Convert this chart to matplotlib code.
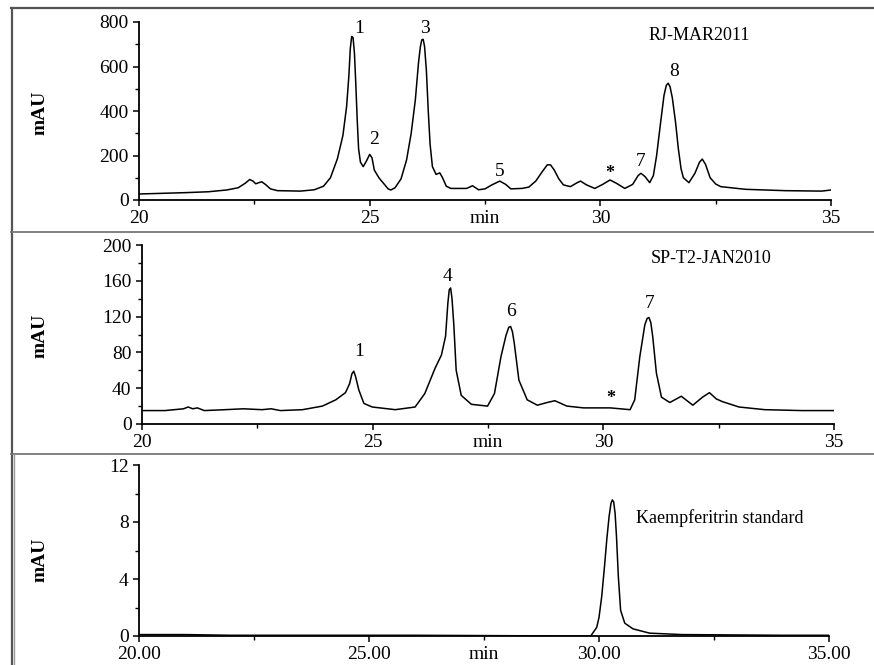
import matplotlib
matplotlib.use("Agg")
import matplotlib.pyplot as plt
from matplotlib.lines import Line2D
from matplotlib.ticker import MultipleLocator, FormatStrFormatter

plt.rcParams['font.family'] = ['Liberation Serif', 'DejaVu Serif']

# --- RJ-MAR2011 chromatogram (min, mAU)
rj_t = [20.0, 20.5, 21.0, 21.5, 21.9, 22.15, 22.3, 22.4, 22.47, 22.53, 22.6, 22.66, 22.74, 22.85,
        23.0, 23.5, 23.8, 24.0, 24.15, 24.3, 24.42, 24.5, 24.55, 24.58, 24.61, 24.64, 24.67, 24.7,
        24.73, 24.76, 24.8, 24.86, 24.93, 25.0, 25.05, 25.1, 25.2, 25.3, 25.4, 25.46, 25.55, 25.68,
        25.8, 25.9, 25.99, 26.06, 26.1, 26.13, 26.16, 26.19, 26.23, 26.27, 26.31, 26.36, 26.44,
        26.52, 26.58, 26.66, 26.76, 27.1, 27.23, 27.36, 27.5, 27.65, 27.82, 27.95, 28.06, 28.3,
        28.45, 28.6, 28.75, 28.85, 28.92, 29.0, 29.1, 29.2, 29.35, 29.5, 29.57, 29.7, 29.88, 30.05,
        30.21, 30.35, 30.53, 30.7, 30.82, 30.88, 30.97, 31.07, 31.15, 31.22, 31.3, 31.38, 31.43,
        31.47, 31.51, 31.56, 31.63, 31.69, 31.75, 31.8, 31.92, 32.05, 32.15, 32.21, 32.28, 32.38,
        32.5, 32.61, 33.15, 34.0, 34.8, 35.0]
rj_v = [27, 30, 33, 37, 45, 55, 75, 92, 85, 73, 78, 82, 70, 50,
        42, 40, 46, 62, 100, 185, 290, 420, 560, 680, 735, 730, 660, 520,
        360, 230, 170, 150, 175, 205, 190, 135, 100, 75, 50, 45, 55, 95,
        180, 300, 450, 620, 690, 720, 722, 690, 580, 400, 250, 150, 115,
        122, 100, 62, 52, 52, 64, 46, 50, 68, 85, 70, 50, 52,
        58, 85, 130, 158, 158, 135, 95, 68, 60, 78, 85, 68, 52, 70,
        90, 75, 52, 70, 110, 120, 105, 78, 110, 200, 337, 470, 515,
        525, 510, 460, 350, 232, 140, 100, 78, 120, 170, 184, 160, 100,
        72, 60, 48, 42, 40, 45]
rj_lab = ['1', '2', '3', '5', '*', '7', '8']
rj_lab_t = [24.77, 25.1, 26.2, 27.82, 30.21, 30.88, 31.6]
rj_lab_v = [772, 274, 772, 127, 118, 172, 577]

# --- SP-T2-JAN2010 chromatogram
sp_t = [20.0, 20.5, 20.9, 21.0, 21.1, 21.2, 21.35, 21.8, 22.2, 22.6, 22.8, 23.0, 23.48, 23.91,
        24.2, 24.41, 24.5, 24.55, 24.59, 24.63, 24.7, 24.81, 24.99, 25.49, 25.92, 26.13, 26.35,
        26.49, 26.58, 26.63, 26.66, 26.69, 26.72, 26.76, 26.81, 26.92, 27.14, 27.49, 27.64, 27.78,
        27.89, 27.95, 27.99, 28.03, 28.07, 28.17, 28.35, 28.57, 28.78, 28.95, 29.21, 29.57, 30.15,
        30.58, 30.68, 30.79, 30.9, 30.95, 30.99, 31.03, 31.07, 31.15, 31.26, 31.44, 31.69, 31.94,
        32.15, 32.3, 32.45, 32.58, 32.94, 33.5, 34.3, 35.0]
sp_v = [15, 15, 17, 19, 17, 18, 15, 16, 17, 16, 17, 15, 16, 20,
        27, 35, 45, 56, 59, 53, 38, 23, 19, 16, 19, 34, 62,
        77, 98, 135, 150, 152, 140, 110, 60, 32, 22, 20, 34, 75,
        99, 108, 109, 103, 90, 49, 27, 21, 24, 26, 20, 18, 18,
        16, 27, 75, 111, 118, 119, 113, 98, 57, 30, 24, 31, 21,
        30, 35, 28, 25, 19, 16, 15, 15]
sp_lab = ['1', '4', '6', '*', '7']
sp_lab_t = [24.7, 26.62, 28.0, 30.17, 31.0]
sp_lab_v = [81, 165, 126, 28, 135]

# --- Kaempferitrin standard
std_t = [20.0, 21.0, 22.0, 24.0, 26.0, 29.5, 29.82, 29.95, 30.0, 30.06, 30.12, 30.17, 30.22,
         30.26, 30.29, 30.32, 30.35, 30.38, 30.42, 30.47, 30.56, 30.74, 31.1, 31.8, 34.0, 35.0]
std_v = [0.1, 0.1, 0.05, 0.05, 0.05, 0.0, 0.0, 0.6, 1.3, 2.8, 4.9, 6.8, 8.4,
         9.3, 9.55, 9.4, 8.6, 7.0, 4.2, 1.8, 0.9, 0.5, 0.2, 0.1, 0.05, 0.05]

W, H = 874, 665
fig = plt.figure(figsize=(W / 100, H / 100), dpi=100)


def px_axes(x0, x1, ytop, ybot):
    return fig.add_axes([x0 / W, 1 - ybot / H, (x1 - x0) / W, (ybot - ytop) / H])


def style(ax, ymax, ymaj, xfmt):
    ax.set_xlim(20, 35)
    ax.set_ylim(0, ymax)
    for s in ['top', 'right']:
        ax.spines[s].set_visible(False)
    for s in ['left', 'bottom']:
        ax.spines[s].set_linewidth(1.3)
    ax.xaxis.set_major_locator(MultipleLocator(5))
    ax.xaxis.set_minor_locator(MultipleLocator(2.5))
    ax.yaxis.set_major_locator(MultipleLocator(ymaj))
    ax.yaxis.set_minor_locator(MultipleLocator(ymaj / 2))
    ax.xaxis.set_major_formatter(FormatStrFormatter(xfmt))
    ax.tick_params(which='major', length=4.5, width=1.1, labelsize=14, pad=3)
    ax.tick_params(which='minor', length=3, width=1.0)
    ax.annotate('min', xy=(0.5, 0), xycoords='axes fraction', xytext=(0, -7.5),
                textcoords='offset points', ha='center', va='top', fontsize=14)
    ax.patch.set_alpha(0)


ax1 = px_axes(139, 831, 22, 200)
ax1.plot(rj_t, rj_v, color='black', lw=1.1)
style(ax1, 800, 200, '%d')
for s, t, v in zip(rj_lab, rj_lab_t, rj_lab_v):
    ax1.text(t, v, s, ha='center', va='center', fontsize=14 if s != '*' else 13,
             fontweight='bold' if s == '*' else 'normal')
ax1.text(32.14, 741, 'RJ-MAR2011', ha='center', va='center', fontsize=13)

ax2 = px_axes(142, 834, 245, 424)
ax2.plot(sp_t, sp_v, color='black', lw=1.1)
style(ax2, 200, 40, '%d')
for s, t, v in zip(sp_lab, sp_lab_t, sp_lab_v):
    ax2.text(t, v, s, ha='center', va='center', fontsize=14 if s != '*' else 13,
             fontweight='bold' if s == '*' else 'normal')
ax2.text(32.33, 185, 'SP-T2-JAN2010', ha='center', va='center', fontsize=13)

ax3 = px_axes(139, 829, 465, 636)
ax3.plot(std_t, std_v, color='black', lw=1.1)
style(ax3, 12, 4, '%.2f')
ax3.text(30.81, 8.25, 'Kaempferitrin standard', ha='left', va='center', fontsize=13)

for yc in [113, 336, 560]:
    fig.text(40 / W, 1 - yc / H, 'mAU', rotation=90, ha='center', va='center',
             fontsize=14, fontweight='bold')

# panel frames
frame = dict(color='#555555', lw=1.6)
fig.add_artist(Line2D([11.5 / W, 11.5 / W], [0, 1 - 8 / H], **frame))
fig.add_artist(Line2D([11 / W, 1], [1 - 8 / H, 1 - 8 / H], **frame))
fig.add_artist(Line2D([11 / W, 1], [1 - 232 / H, 1 - 232 / H], color='#777777', lw=1.3))
fig.add_artist(Line2D([11 / W, 1], [1 - 454 / H, 1 - 454 / H], color='#777777', lw=1.3))
fig.add_artist(Line2D([14.5 / W, 14.5 / W], [0, 1 - 455 / H], color='#999999', lw=1.0))

fig.savefig('out.png', dpi=100)
